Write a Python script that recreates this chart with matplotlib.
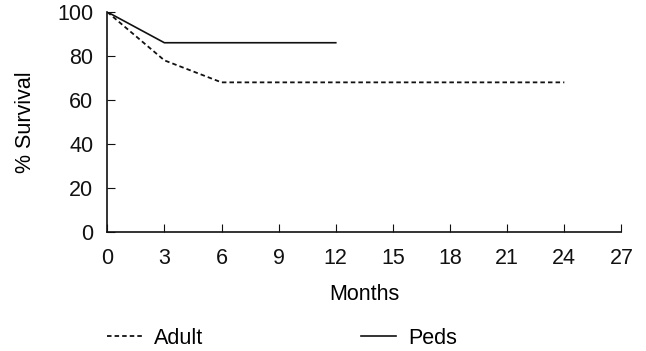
import matplotlib
matplotlib.use("Agg")
import matplotlib.pyplot as plt

plt.rcParams["font.family"] = ["Liberation Sans", "DejaVu Sans"]

# Survival data
months_adult = [0, 3, 6, 24]
survival_adult = [100, 78, 68, 68]
months_peds = [0, 3, 12]
survival_peds = [100, 86, 86]
x_ticks = [0, 3, 6, 9, 12, 15, 18, 21, 24, 27]
y_ticks = [0, 20, 40, 60, 80, 100]

fig = plt.figure(figsize=(6.46, 3.51), dpi=100)
ax = fig.add_axes([0.166, 0.339, 0.796, 0.627])

ax.plot(months_adult, survival_adult, color="#111111", linewidth=1.3,
        linestyle=(0, (2.5, 1.7)), label="Adult")
ax.plot(months_peds, survival_peds, color="#111111", linewidth=1.2,
        linestyle="-", label="Peds")

ax.set_xlim(0, 27)
ax.set_ylim(0, 100)
ax.set_xticks(x_ticks)
ax.set_yticks(y_ticks)
for side in ("top", "right"):
    ax.spines[side].set_visible(False)
for side in ("left", "bottom"):
    ax.spines[side].set_linewidth(1.2)
    ax.spines[side].set_color("#111111")
ax.tick_params(axis="both", direction="in", length=6, width=0.8,
               labelsize=15.5, colors="#111111")
ax.tick_params(axis="x", pad=11.5)
ax.tick_params(axis="y", pad=10)

ax.set_xlabel("Months", fontsize=15.5, labelpad=10.5)
ax.set_ylabel("% Survival", fontsize=15.5, labelpad=15)

fig.legend(loc="center left", bbox_to_anchor=(0.1656, 0.037), ncol=2,
           frameon=False, fontsize=15.5, handlelength=1.65,
           handletextpad=0.55, columnspacing=7.3,
           borderpad=0, borderaxespad=0)

fig.savefig("out.png", dpi=100)
